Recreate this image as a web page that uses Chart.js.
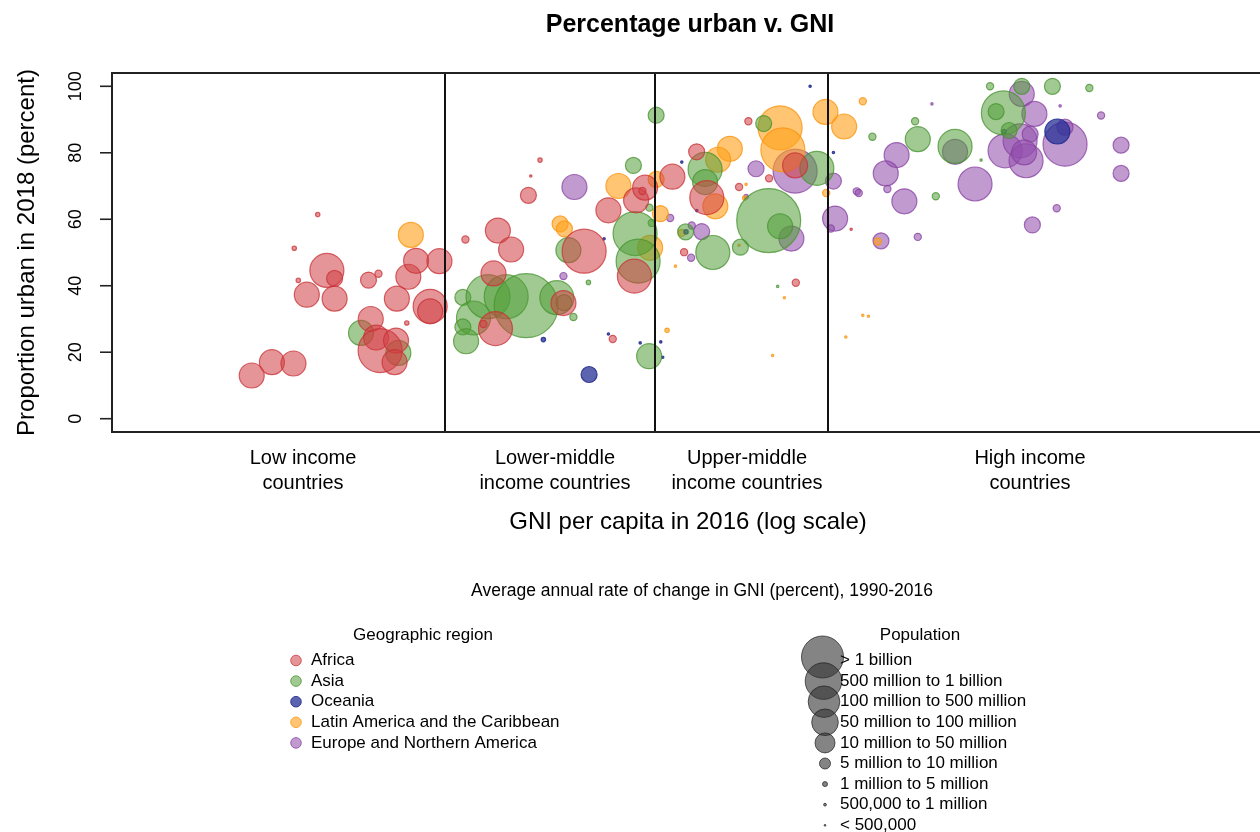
<!DOCTYPE html>
<html><head><meta charset="utf-8">
<script src="https://cdn.jsdelivr.net/npm/chart.js@4.4.1/dist/chart.umd.min.js"></script>
<style>html,body{margin:0;padding:0;background:#fff}#wrap{position:relative;width:1260px;height:832px}</style>
</head><body><div id="wrap"><canvas id="c" width="1260" height="832"></canvas></div>
<script>
// ---------------- DATA ----------------
const regionNames = ['Africa', 'Asia', 'Oceania', 'Latin America and the Caribbean', 'Europe and Northern America'];
const popBrackets = ['< 500,000', '500,000 to 1 million', '1 million to 5 million', '5 million to 10 million',
  '10 million to 50 million', '50 million to 100 million', '100 million to 500 million', '500 million to 1 billion', '> 1 billion'];
const incomeThresholds = [1005, 3955, 12235];
const incomeGroups = [['Low income', 'countries'], ['Lower-middle', 'income countries'], ['Upper-middle', 'income countries'], ['High income', 'countries']];
const yTicks = [0, 20, 40, 60, 80, 100];

// GNI per capita 2016 (US$), percentage urban 2018, population bracket index
const africaGNI = [284, 324, 373, 437, 375, 385, 407, 464, 488, 488, 609, 650, 618, 640, 657, 729, 722, 733, 782, 790, 831, 968, 911, 911,
  1868, 1758, 1731, 1418, 1546, 1147, 1378, 1396, 1290, 2176, 2491, 2919, 3498, 3710, 3459, 3003, 3645,
  7284, 5195, 4434, 5551, 6854, 8339, 4786, 9929, 14254, 9884];
const africaUrban = [13.0, 17.0, 16.6, 61.4, 51.3, 41.6, 37.3, 44.6, 42.2, 36.1, 41.7, 43.6, 30.0, 24.4, 20.5, 23.5, 17.0, 36.1, 28.8, 42.7, 47.5, 47.4, 33.8, 32.3,
  77.8, 73.0, 67.2, 56.6, 50.9, 53.9, 43.7, 27.1, 28.5, 34.8, 50.4, 62.7, 65.7, 69.5, 42.9, 24.0, 68.5,
  89.5, 80.3, 72.8, 66.5, 69.7, 72.3, 50.1, 40.9, 57.0, 76.2];
const africaPop = [4, 4, 4, 1, 1, 1, 4, 5, 3, 4, 3, 2, 4, 4, 6, 4, 4, 4, 1, 4, 4, 4, 5, 4,
  1, 0, 3, 4, 4, 2, 4, 5, 2, 4, 6, 4, 4, 4, 5, 2, 2,
  2, 3, 4, 5, 2, 2, 2, 2, 0, 4];

const asiaGNI = [580, 740, 1128, 1209, 1128, 1152, 1330, 1497, 1705, 2084, 2184, 2248, 2562, 2323, 3437, 3816, 3874, 3475, 3544, 3809, 3987,
  4834, 5490, 5490, 5773, 6913, 8050, 8317, 8962, 11390, 8820,
  16376, 21645, 22030, 28100, 38530, 36740, 35320, 43450, 53080, 67570, 33310, 24780, 39990];
const asiaUrban = [25.8, 19.8, 36.5, 30.3, 27.6, 23.3, 36.7, 36.7, 34.0, 36.4, 34.9, 50.7, 41.0, 30.6, 76.2, 63.5, 58.9, 55.7, 47.4, 18.8, 91.3,
  56.2, 75.0, 71.2, 50.0, 51.6, 88.8, 59.6, 57.9, 75.3, 39.8,
  84.8, 89.5, 84.1, 81.9, 92.0, 92.4, 100, 100, 100, 99.5, 77.8, 66.9, 86.7];
const asiaPop = [4, 4, 3, 5, 3, 4, 6, 6, 8, 5, 3, 4, 1, 2, 3, 2, 2, 6, 6, 4, 3,
  3, 5, 4, 5, 3, 3, 8, 4, 5, 0,
  2, 2, 4, 5, 6, 3, 2, 3, 3, 2, 0, 2, 3];

const oceaniaGNI = [2573, 1909, 2838, 2919, 3593, 4110, 4162, 10902, 4715, 5200, 4848, 12695, 54820, 38710];
const oceaniaUrban = [13.3, 23.8, 54.1, 25.5, 22.8, 23.1, 18.5, 100, 77.2, 62.6, 56.2, 80.1, 86.4, 86.4];
const oceaniaPop = [3, 1, 0, 0, 0, 0, 0, 0, 0, 0, 1, 0, 4, 1];

const latamGNI = [803, 3116, 2129, 2190, 3833, 3987, 4100, 8962, 9124, 6453, 5977, 5869, 12053, 13616, 15381, 12108, 16950,
  4715, 4522, 7177, 7110, 6854, 9214, 4282, 8532, 15381, 15957, 13765];
const latamUrban = [55.3, 70.0, 58.6, 57.1, 51.4, 72.0, 61.7, 87.5, 80.9, 81.2, 77.9, 63.9, 92.3, 87.9, 95.5, 67.9, 53.3,
  55.9, 45.9, 70.5, 66.4, 52.2, 36.4, 26.6, 19.0, 31.1, 30.8, 24.6];
const latamPop = [4, 4, 3, 3, 4, 3, 3, 6, 6, 4, 4, 4, 4, 4, 2, 2, 2,
  2, 0, 0, 1, 0, 0, 1, 0, 0, 0, 0];

const europeGNI = [2338, 2176, 4369, 5031, 5368, 5010, 7177, 7657, 9884, 9648, 12695, 12836, 12479, 14786, 14981, 18058, 19182, 17870,
  20180, 17320, 22030, 24160, 28100, 32024, 38965, 43450, 47185, 42972, 45880, 44690, 44120, 57645, 57645, 55820, 72940, 54590,
  46570, 83120, 83120];
const europeUrban = [69.7, 42.9, 60.4, 58.1, 56.3, 48.4, 66.8, 75.2, 74.5, 54.2, 71.5, 60.2, 57.2, 68.4, 67.9, 69.1, 79.3, 73.8,
  65.4, 53.5, 54.7, 94.7, 80.3, 70.6, 80.6, 97.7, 91.7, 83.6, 85.6, 77.6, 80.1, 82.6, 87.7, 94.1, 91.2, 63.3,
  58.3, 82.3, 73.8];
const europePop = [4, 2, 2, 2, 3, 2, 1, 3, 6, 4, 3, 4, 2, 2, 2, 2, 4, 4,
  4, 3, 2, 0, 4, 5, 5, 4, 4, 5, 3, 5, 4, 6, 3, 0, 2, 2,
  3, 3, 3];

// ---------------- STYLE ----------------
const FONT = '"Liberation Sans", Arial, Helvetica, sans-serif';
const fillColors = ['rgba(208,62,66,0.55)', 'rgba(82,158,56,0.55)', 'rgba(38,48,150,0.75)', 'rgba(255,162,28,0.62)', 'rgba(146,78,172,0.57)'];
const edgeColors = ['rgba(200,50,55,0.75)', 'rgba(70,145,45,0.75)', 'rgba(30,40,140,0.85)', 'rgba(250,150,20,0.8)', 'rgba(135,65,160,0.75)'];
const bubbleRadius = [1.2, 2.2, 3.6, 8, 12.5, 17, 22, 27, 32];
const legendRadius = [0.9, 1.4, 2.5, 5.5, 10, 13.3, 15.8, 18.3, 21];

const series = [
  [africaGNI, africaUrban, africaPop],
  [asiaGNI, asiaUrban, asiaPop],
  [oceaniaGNI, oceaniaUrban, oceaniaPop],
  [latamGNI, latamUrban, latamPop],
  [europeGNI, europeUrban, europePop]
];

const datasets = series.map((s, k) => ({
  label: regionNames[k],
  data: s[0].map((g, i) => ({ x: g, y: s[1][i], pop: s[2][i] })),
  backgroundColor: fillColors[k],
  borderColor: edgeColors[k],
  borderWidth: 1.2,
  radius: ctx => bubbleRadius[ctx.raw ? ctx.raw.pop : 0]
}));

const decor = {
  id: 'decor',
  afterDatasetsDraw(chart) {
    const { ctx, chartArea: a, scales: { x, y } } = chart;
    ctx.save();
    ctx.strokeStyle = '#111';
    ctx.lineWidth = 2;
    incomeThresholds.forEach(t => {
      const px = Math.round(x.getPixelForValue(t));
      ctx.beginPath(); ctx.moveTo(px, a.top); ctx.lineTo(px, a.bottom); ctx.stroke();
    });
    ctx.strokeStyle = '#222';
    ctx.beginPath();
    ctx.moveTo(a.right + 2, a.top); ctx.lineTo(a.left, a.top); ctx.lineTo(a.left, a.bottom); ctx.lineTo(a.right + 2, a.bottom);
    ctx.stroke();
    ctx.restore();
  },
  afterDraw(chart) {
    const { ctx, chartArea: a, scales: { x, y } } = chart;
    ctx.save();
    ctx.fillStyle = '#000';
    ctx.strokeStyle = '#222';
    ctx.lineWidth = 1.6;
    ctx.font = '18px ' + FONT;
    ctx.textAlign = 'center';
    ctx.textBaseline = 'middle';
    yTicks.forEach(v => {
      const py = y.getPixelForValue(v);
      ctx.beginPath(); ctx.moveTo(a.left - 12, py); ctx.lineTo(a.left, py); ctx.stroke();
      ctx.save(); ctx.translate(a.left - 37, py); ctx.rotate(-Math.PI / 2); ctx.fillText(String(v), 0, 1); ctx.restore();
    });
    ctx.font = '24px ' + FONT;
    ctx.save(); ctx.translate(27, (a.top + a.bottom) / 2); ctx.rotate(-Math.PI / 2);
    ctx.fillText('Proportion urban in 2018 (percent)', 0, 0); ctx.restore();
    ctx.font = 'bold 25px ' + FONT;
    ctx.fillText('Percentage urban v. GNI', 690, 25);
    const groupCenters = [303, 555, 747, 1030];
    ctx.font = '20px ' + FONT;
    incomeGroups.forEach((g, i) => {
      ctx.fillText(g[0], groupCenters[i], 458);
      ctx.fillText(g[1], groupCenters[i], 483);
    });
    ctx.font = '24px ' + FONT;
    ctx.fillText('GNI per capita in 2016 (log scale)', (a.left + a.right) / 2 + 2, 522);
    ctx.font = '17.5px ' + FONT;
    ctx.fillText('Average annual rate of change in GNI (percent), 1990-2016', 702, 591);
    ctx.font = '17px ' + FONT;
    ctx.fillText('Geographic region', 423, 635);
    ctx.fillText('Population', 920, 635);
    const row0 = 660.5, step = 20.6;
    regionNames.forEach((n, i) => {
      const cy = row0 + i * step;
      ctx.beginPath(); ctx.arc(296, cy, 5.3, 0, Math.PI * 2);
      ctx.fillStyle = fillColors[i]; ctx.fill();
      ctx.strokeStyle = edgeColors[i]; ctx.lineWidth = 1; ctx.stroke();
    });
    ctx.fillStyle = '#000';
    ctx.textAlign = 'left';
    regionNames.forEach((n, i) => ctx.fillText(n, 311, row0 + i * step));
    const order = popBrackets.map((b, i) => i).reverse();
    order.forEach((pi, r) => {
      const cy = row0 + r * step - (r === 0 ? 3.5 : 0);
      const cx = r === 0 ? 822.5 : (r === 1 ? 823.5 : (r === 2 ? 824 : 825));
      ctx.beginPath(); ctx.arc(cx, cy, legendRadius[pi], 0, Math.PI * 2);
      ctx.fillStyle = 'rgba(50,50,50,0.6)'; ctx.fill();
      ctx.strokeStyle = 'rgba(30,30,30,0.7)'; ctx.lineWidth = 1; ctx.stroke();
    });
    ctx.fillStyle = '#000';
    order.forEach((pi, r) => ctx.fillText(popBrackets[pi], 840, row0 + r * step));
    ctx.restore();
  }
};

new Chart(document.getElementById('c'), {
  type: 'bubble',
  data: { datasets },
  options: {
    responsive: false,
    animation: false,
    events: [],
    layout: { autoPadding: false, padding: { left: 112, top: 73, right: 0, bottom: 400 } },
    plugins: { legend: { display: false }, title: { display: false }, tooltip: { enabled: false } },
    scales: {
      x: { type: 'logarithmic', min: 114, max: 206000, bounds: 'data', display: false },
      y: { type: 'linear', min: -4, max: 104, bounds: 'data', display: false }
    }
  },
  plugins: [decor]
});
</script></body></html>
